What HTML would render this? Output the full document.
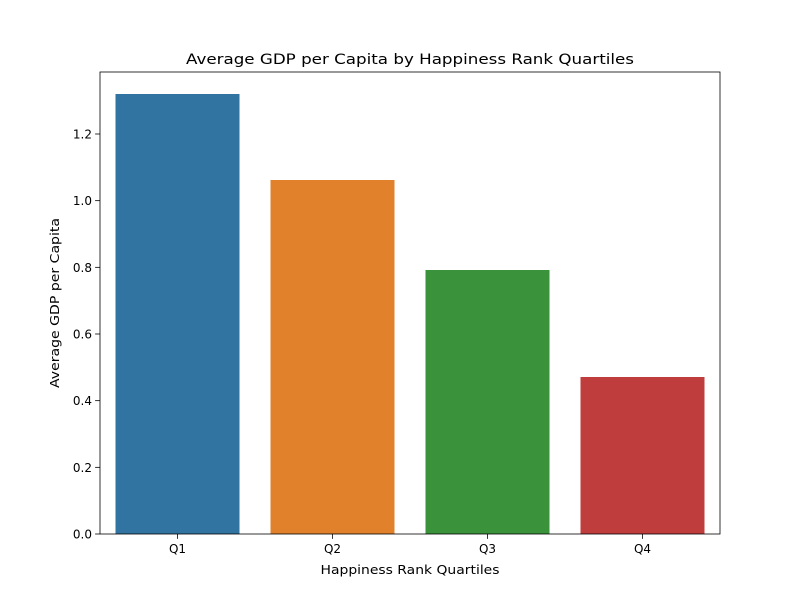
<!DOCTYPE html>
<html><head><meta charset="utf-8"><style>
body{margin:0;background:#fff;}
svg text{font-family:"DejaVu Sans","Liberation Sans",sans-serif;fill:#000;}
</style></head><body>
<svg id="chart" width="800" height="600" xmlns="http://www.w3.org/2000/svg">
<rect width="800" height="600" fill="#fff"/>
<text x="410" y="64" font-size="14.4" text-anchor="middle" textLength="448" lengthAdjust="spacingAndGlyphs">Average GDP per Capita by Happiness Rank Quartiles</text>
<g id="bars"></g>
<g id="axes"></g>
<text x="410" y="574" font-size="12" text-anchor="middle" textLength="179" lengthAdjust="spacingAndGlyphs">Happiness Rank Quartiles</text>
<text x="59" y="303" font-size="12" text-anchor="middle" textLength="170" lengthAdjust="spacingAndGlyphs" transform="rotate(-90 59 303)">Average GDP per Capita</text>
</svg>
<script>
const categories = ["Q1","Q2","Q3","Q4"];
const values = [1.32, 1.062, 0.792, 0.471];
const colors = ["#3274a1","#e1812c","#3a923a","#c03d3e"];
const yTicks = [0, 0.2, 0.4, 0.6, 0.8, 1.0, 1.2];
const yTickLabels = ["0.0","0.2","0.4","0.6","0.8","1.0","1.2"];

const L=100,R=720,T=72,B=534,yMax=1.386;
const NS="http://www.w3.org/2000/svg";
const y=v=>B-(v/yMax)*(B-T);
const step=(R-L)/categories.length;
const xc=i=>L+step*(i+0.5);
const bw=step*0.8;
function mk(tag,attrs,parent){const e=document.createElementNS(NS,tag);for(const k in attrs)e.setAttribute(k,attrs[k]);parent.appendChild(e);return e;}
const gb=document.getElementById('bars'), ga=document.getElementById('axes');
categories.forEach((c,i)=>{
  const r=mk('rect',{x:xc(i)-bw/2,y:y(values[i]),width:bw,height:B-y(values[i]),fill:colors[i]},gb);
  
  
  const t=mk('line',{x1:xc(i),x2:xc(i),y1:B,y2:B+4.9,stroke:'#000','stroke-width':0.8},ga);
  
  
  const l=mk('text',{x:xc(i),y:B+19,'font-size':12,'text-anchor':'middle'},ga);
  l.textContent=c;
  
  
});
yTicks.forEach((v,i)=>{
  const t=mk('line',{x1:L-4.9,x2:L,y1:y(v),y2:y(v),stroke:'#000','stroke-width':0.8},ga);
  
  
  const l=mk('text',{x:L-8,y:y(v)+4.5,'font-size':12,'text-anchor':'end'},ga);
  l.textContent=yTickLabels[i];
  
  
});
const f=mk('rect',{x:L,y:T,width:R-L,height:B-T,fill:'none',stroke:'#000','stroke-width':0.8},ga);


</script>
</body></html>
